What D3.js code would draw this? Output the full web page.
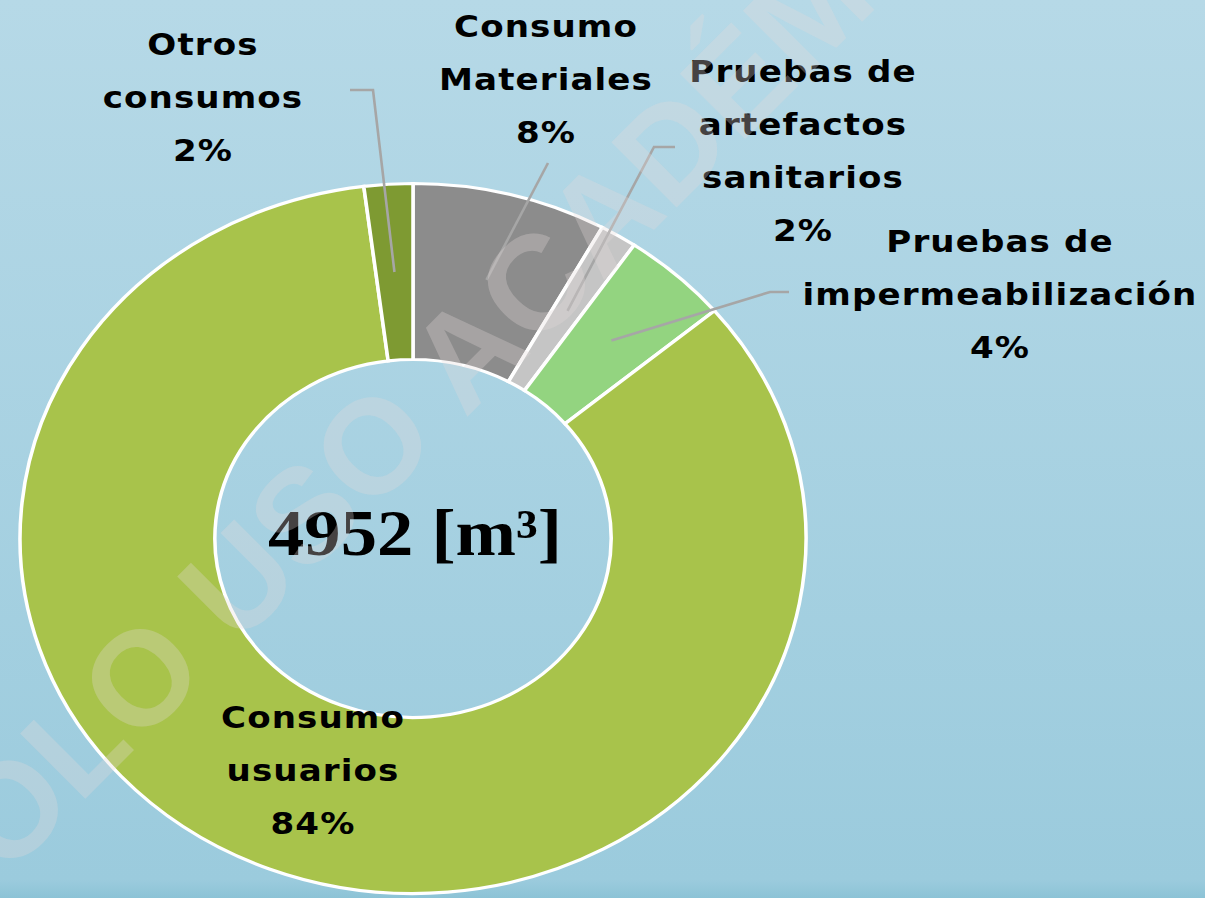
<!DOCTYPE html>
<html>

<head>
    <meta charset="utf-8">
    <style>
        body {
            margin: 0;
            overflow: hidden;
        }

        svg {
            display: block;
        }

        .label {
            font-family: 'DejaVu Sans', sans-serif;
            font-weight: bold;
            font-size: 31px;
            letter-spacing: 1px;
            fill: #000;
        }

        .total {
            font-family: 'Liberation Serif', 'Times New Roman', serif;
            font-weight: bold;
            font-size: 66px;
            fill: #000;
        }

        .leader {
            fill: none;
            stroke: #a6a6a6;
            stroke-width: 2.6;
        }
    </style>
</head>

<body>
    <svg width="1205" height="898"></svg>
</body>

<script src="https://d3js.org/d3.v7.min.js"></script>

<script>

    // volumes in m³, clockwise from 12 o'clock
    let categories = ["Consumo Materiales", "Pruebas de artefactos sanitarios", "Pruebas de impermeabilización", "Consumo usuarios", "Otros consumos"];
    let volumes = [396, 75, 218, 4164, 99];
    let colors = ["#8c8c8c", "#c5c5c5", "#93d480", "#a8c34b", "#7e9a32"];

    // label text lines (the percentage line is added from the data)
    let labelLines = [
        ["Consumo", "Materiales"],
        ["Pruebas de", "artefactos", "sanitarios"],
        ["Pruebas de", "impermeabilización"],
        ["Consumo", "usuarios"],
        ["Otros", "consumos"]
    ];

    // where each label sits and the bend of its leader line
    let labelPos = [
        { x: 546, y: 37, bend: [[548, 163]] },
        { x: 803, y: 82, bend: [[654, 147], [675, 147]] },
        { x: 1000, y: 252, bend: [[770, 292], [789, 292]] },
        { x: 313, y: 728, bend: null },
        { x: 203, y: 55, bend: [[373, 90], [350, 90]] }
    ];

    let width = 1205;
    let height = 898;
    let cx = 413, cy = 538.5;
    let stretch = 1.107;
    let outerR = 355, innerR = 179;
    let lineGap = 53;

    let svg = d3.select("svg");

    let grad = svg.append("defs")
        .append("linearGradient")
        .attr("id", "bg")
        .attr("x1", 0).attr("y1", 0).attr("x2", 0).attr("y2", 1);
    grad.append("stop").attr("offset", "0%").attr("stop-color", "#b6d9e7");
    grad.append("stop").attr("offset", "98%").attr("stop-color", "#9bcbdd");
    grad.append("stop").attr("offset", "100%").attr("stop-color", "#8cc3d6");

    svg.append("rect")
        .attr("width", width)
        .attr("height", height)
        .attr("fill", "url(#bg)");

    let total = d3.sum(volumes);
    let pct = d3.format(".0%");

    let pie = d3.pie().sort(null).value(d => d);
    let arcs = pie(volumes);

    let arc = d3.arc()
        .innerRadius(innerR)
        .outerRadius(outerR);

    svg.append("g")
        .attr("transform", `translate(${cx},${cy}) scale(${stretch},1)`)
        .selectAll("path")
        .data(arcs)
        .join("path")
        .attr("d", arc)
        .attr("fill", (d, i) => colors[i])
        .attr("stroke", "#fff")
        .attr("stroke-width", 3.2);

    // leader lines from slice middle to the label
    let toScreen = c => [cx + c[0] * stretch, cy + c[1]];

    svg.append("g")
        .selectAll("path")
        .data(arcs.filter((d, i) => labelPos[i].bend))
        .join("path")
        .attr("class", "leader")
        .attr("d", d => {
            let i = d.index;
            return d3.line()([toScreen(arc.centroid(d))].concat(labelPos[i].bend));
        });

    // labels
    let labels = svg.append("g")
        .selectAll("text")
        .data(arcs)
        .join("text")
        .attr("class", "label")
        .attr("text-anchor", "middle")
        .attr("transform", (d, i) => `translate(${labelPos[i].x},${labelPos[i].y}) scale(1.1,1)`);

    labels.selectAll("tspan")
        .data((d, i) => labelLines[i].concat([pct(d.value / total)]))
        .join("tspan")
        .attr("x", 0)
        .attr("y", (d, j) => j * lineGap)
        .text(d => d);

    svg.append("text")
        .attr("class", "total")
        .attr("text-anchor", "middle")
        .attr("transform", `translate(${cx + 2},555) scale(1.1,1)`)
        .text(d3.format("d")(total) + " [m³]");

    // watermark
    svg.append("text")
        .attr("transform", "translate(-58,942) rotate(-45)")
        .attr("font-family", "'Liberation Sans', sans-serif")
        .attr("font-weight", "bold")
        .attr("font-size", 134)
        .attr("fill", "#e6dcdc")
        .attr("fill-opacity", 0.3)
        .text("SOLO USO ACADÉMICO");

</script>

</html>
